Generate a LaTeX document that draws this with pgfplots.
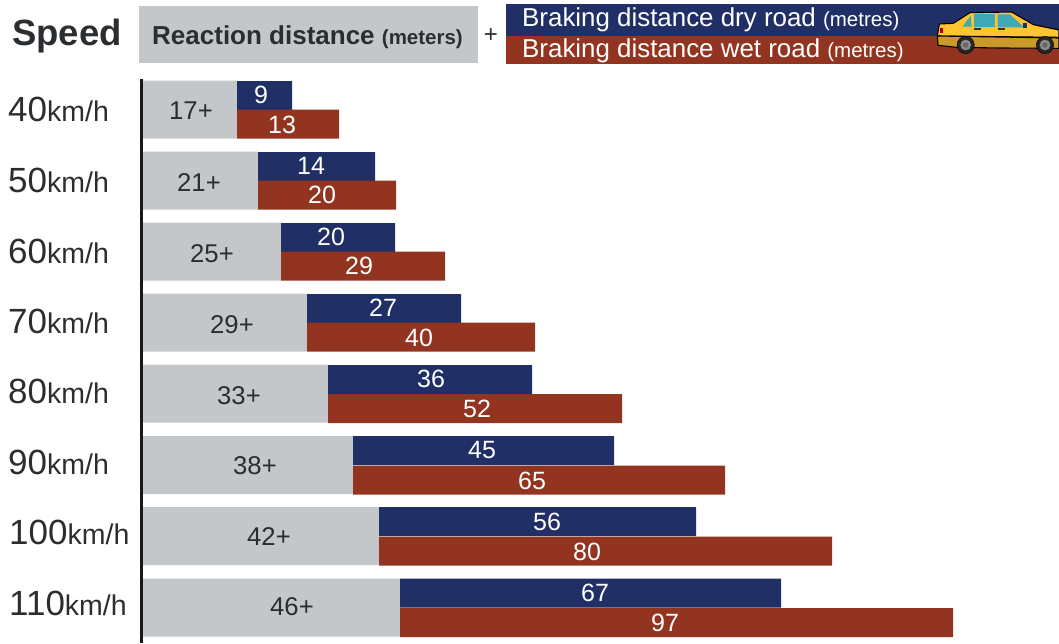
\documentclass[border=0pt]{standalone}
\usepackage{pgfplots}
\usepackage{pgfplotstable}
\usepackage{fontspec}
\setmainfont{Liberation Sans}
\pgfplotsset{compat=1.18}
\definecolor{navy}{HTML}{202F66}
\definecolor{rust}{HTML}{92341F}
\definecolor{lightgrey}{HTML}{C4C7CA}
\definecolor{ink}{HTML}{2B2E31}
\definecolor{caryellow}{HTML}{FFC42E}
\definecolor{carlow}{HTML}{C99A2A}
\definecolor{carglass}{HTML}{3FA9B5}
\newcommand{\fs}[1]{\fontsize{#1}{#1}\selectfont}

% bar lengths as drawn in the picture (1 unit = 1 px from the spine)
\pgfplotstableread{
ygrey ydry ywet reaction dry wet
109.5 95.5 124.0 94 55 102
180.5 166.5 195.0 115 117 138
251.5 237.5 266.0 138 114 164
322.5 308.5 337.0 164 154 228
393.5 379.5 408.5 185 204 294
465.0 450.5 480.0 210 261 372
536.0 521.5 551.0 236 317 453
607.5 593.0 622.5 257 381 553
}\bars

\pgfplotstableread{
x y label
48 111 17+
56 183 21+
69 254 25+
89 325 29+
96 396 33+
112 466 38+
126 537 42+
149 607 46+
}\reactionlabels

\pgfplotstableread{
x y label
118 95 9
168 166 14
188 237 20
240 308 27
288 379 36
339 450 45
404 522 56
452 593 67
139 125 13
179 195 20
216 266 29
276 338 40
334 409 52
389 481 65
444 552 80
522 623 97
}\barlabels

\pgfplotstableread{
x y label
-135 109 40
-135 180 50
-135 251 60
-135 321 70
-135 391 80
-135 462 90
-134 532 100
-134 603 110
}\speeds

\pgfplotsset{page/.style={
  at={(0,0)}, anchor=north west, x=1pt, y=1pt,
  xmin=-143, xmax=916, ymin=0, ymax=643, y dir=reverse,
  hide axis, clip=false}}

\begin{document}
\begin{tikzpicture}
\path[use as bounding box] (0,0) rectangle (1059pt,-643pt);

\begin{axis}[page]
\addplot[xbar, bar width=58pt, bar shift=0pt, draw=none, fill=lightgrey]
  table[x=reaction, y=ygrey] {\bars};
\end{axis}

\begin{axis}[page, xbar stacked, bar width=29pt]
\addplot[draw=none, fill=none] table[x=reaction, y=ydry] {\bars};
\addplot[draw=none, fill=navy] table[x=dry, y=ydry] {\bars};
\end{axis}

\begin{axis}[page, xbar stacked, bar width=29pt]
\addplot[draw=none, fill=none] table[x=reaction, y=ywet] {\bars};
\addplot[draw=none, fill=rust] table[x=wet, y=ywet] {\bars};
\end{axis}

\begin{axis}[page]
\addplot[only marks, mark size=0pt, point meta=explicit symbolic, nodes near coords,
  nodes near coords style={anchor=center, inner sep=0pt, text=ink, font=\fs{25.7}}]
  table[x=x, y=y, meta=label] {\reactionlabels};
\addplot[only marks, mark size=0pt, point meta=explicit symbolic, nodes near coords,
  nodes near coords style={anchor=center, inner sep=0pt, text=white, font=\fs{25}}]
  table[x=x, y=y, meta=label] {\barlabels};
\addplot[only marks, mark size=0pt, point meta=explicit symbolic,
  nodes near coords={{\fs{35}\pgfplotspointmeta}{\fs{28.5}km/h}},
  nodes near coords style={anchor=west, inner sep=0pt, text=ink}]
  table[x=x, y=y, meta=label] {\speeds};
\end{axis}

% header and spine, in picture pixels
\begin{scope}[x=1pt, y=-1pt]
\fill[lightgrey] (139,6) rectangle (478,63);
\fill[navy] (506,4) rectangle (1059,36);
\fill[rust] (506,36) rectangle (1059,64);
\draw[line width=3pt, black!90] (141,79) -- (141,643);
\node[anchor=west, inner sep=0pt, text=ink] at (12,36) {\fs{36.5}\textbf{Speed}};
\node[anchor=west, inner sep=0pt, text=ink] at (152,37) {\fs{26}\textbf{Reaction distance} {\fs{20.5}\textbf{(meters)}}};
\node[inner sep=0pt, text=ink] at (491,36) {\fs{24}+};
\node[anchor=west, inner sep=0pt, text=white] at (522,20) {\fs{25.9}Braking distance dry road {\fs{20.5}(metres)}};
\node[anchor=west, inner sep=0pt, text=white] at (522,51) {\fs{25.9}Braking distance wet road {\fs{20.5}(metres)}};
\end{scope}

% car
\begin{scope}[shift={(900pt,0pt)}, x=0.3333pt, y=-0.3333pt]
\filldraw[fill=caryellow, draw=black, line width=1.1pt]
  (118,72) -- (160,70) -- (210,38) -- (335,36) -- (400,74) -- (477,90) -- (477,112) -- (112,108) -- cycle;
\filldraw[fill=carlow, draw=black, line width=1.1pt]
  (112,108) -- (477,114) -- (477,145) -- (300,144) -- (170,142) -- (114,136) -- cycle;
\fill[carglass] (187,80) -- (212,47) -- (215,80) -- cycle;
\fill[carglass] (222,43) -- (285,43) -- (285,80) -- (222,80) -- cycle;
\fill[carglass] (293,43) -- (330,43) -- (372,82) -- (293,82) -- cycle;
\fill[navy] (370,70) rectangle (382,85);
\fill[black!80] (223,85) rectangle (243,89);
\fill[black!80] (295,85) rectangle (315,89);
\fill[red!70!black] (119,83) rectangle (130,100);
\foreach \cx in {197,435} {
  \filldraw[fill=black!85, draw=black] (\cx,135) circle [radius=26];
  \fill[black!45] (\cx,135) circle [radius=16];
  \fill[black!60] (\cx,135) circle [radius=8];
}
\end{scope}
\end{tikzpicture}
\end{document}
